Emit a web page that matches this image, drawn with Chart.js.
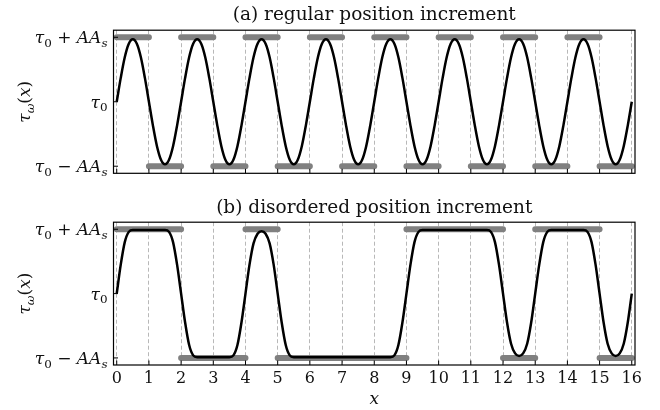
<!DOCTYPE html>
<html lang="en">
<head>
<meta charset="UTF-8">
<title>Position increment</title>
<style>
  body { margin: 0; background: #fff; }
  #wrap { position: relative; width: 660px; height: 410px; }
  .panel { position: absolute; left: 0; width: 660px; }
  #top { top: 0; height: 195px; }
  #bottom { top: 195px; height: 215px; }
</style>
<script src="https://cdn.jsdelivr.net/npm/chart.js"></script>
</head>
<body>
<div id="wrap">
  <div class="panel" id="top"><canvas id="chartA"></canvas></div>
  <div class="panel" id="bottom"><canvas id="chartB"></canvas></div>
</div>
<script>
  // x ticks and y ticks
  const xTicks = [0, 1, 2, 3, 4, 5, 6, 7, 8, 9, 10, 11, 12, 13, 14, 15, 16];
  const yTickValues = [-1, 0, 1];
  const yTickLabels = ['τ_0 − AA_s', 'τ_0', 'τ_0 + AA_s'];
  const yTitle = 'τ_ω(x)';
  const xTitle = 'x';
  const titleA = '(a) regular position increment';
  const titleB = '(b) disordered position increment';

  // curve samples, one row per unit of x (8 samples per unit)
  const sampleStep = 0.125;
  const curveA = [
    0, 0.37, 0.69, 0.90, 0.97, 0.90, 0.69, 0.37,
    0, -0.37, -0.69, -0.90, -0.97, -0.90, -0.69, -0.37,
    0, 0.37, 0.69, 0.90, 0.97, 0.90, 0.69, 0.37,
    0, -0.37, -0.69, -0.90, -0.97, -0.90, -0.69, -0.37,
    0, 0.37, 0.69, 0.90, 0.97, 0.90, 0.69, 0.37,
    0, -0.37, -0.69, -0.90, -0.97, -0.90, -0.69, -0.37,
    0, 0.37, 0.69, 0.90, 0.97, 0.90, 0.69, 0.37,
    0, -0.37, -0.69, -0.90, -0.97, -0.90, -0.69, -0.37,
    0, 0.37, 0.69, 0.90, 0.97, 0.90, 0.69, 0.37,
    0, -0.37, -0.69, -0.90, -0.97, -0.90, -0.69, -0.37,
    0, 0.37, 0.69, 0.90, 0.97, 0.90, 0.69, 0.37,
    0, -0.37, -0.69, -0.90, -0.97, -0.90, -0.69, -0.37,
    0, 0.37, 0.69, 0.90, 0.97, 0.90, 0.69, 0.37,
    0, -0.37, -0.69, -0.90, -0.97, -0.90, -0.69, -0.37,
    0, 0.37, 0.69, 0.90, 0.97, 0.90, 0.69, 0.37,
    0, -0.37, -0.69, -0.90, -0.97, -0.90, -0.69, -0.37,
    0
  ];
  const curveB = [
    0, 0.45, 0.80, 0.96, 0.99, 0.99, 0.99, 0.99,
    0.99, 0.99, 0.99, 0.99, 0.99, 0.96, 0.80, 0.45,
    0, -0.45, -0.80, -0.96, -0.99, -0.99, -0.99, -0.99,
    -0.99, -0.99, -0.99, -0.99, -0.99, -0.96, -0.80, -0.45,
    0, 0.45, 0.78, 0.93, 0.97, 0.93, 0.78, 0.45,
    0, -0.45, -0.80, -0.96, -0.99, -0.99, -0.99, -0.99,
    -0.99, -0.99, -0.99, -0.99, -0.99, -0.99, -0.99, -0.99,
    -0.99, -0.99, -0.99, -0.99, -0.99, -0.99, -0.99, -0.99,
    -0.99, -0.99, -0.99, -0.99, -0.99, -0.96, -0.80, -0.45,
    0, 0.45, 0.80, 0.96, 0.99, 0.99, 0.99, 0.99,
    0.99, 0.99, 0.99, 0.99, 0.99, 0.99, 0.99, 0.99,
    0.99, 0.99, 0.99, 0.99, 0.99, 0.96, 0.80, 0.45,
    0, -0.45, -0.78, -0.93, -0.97, -0.93, -0.78, -0.45,
    0, 0.45, 0.80, 0.96, 0.99, 0.99, 0.99, 0.99,
    0.99, 0.99, 0.99, 0.99, 0.99, 0.96, 0.80, 0.45,
    0, -0.45, -0.78, -0.93, -0.97, -0.93, -0.78, -0.45,
    0
  ];

  // gray bars: [start, end] intervals at the upper (+1) and lower (-1) level
  const highBarsA = [[0, 1], [2, 3], [4, 5], [6, 7], [8, 9], [10, 11], [12, 13], [14, 15]];
  const lowBarsA = [[1, 2], [3, 4], [5, 6], [7, 8], [9, 10], [11, 12], [13, 14], [15, 16]];
  const highBarsB = [[0, 2], [4, 5], [9, 12], [13, 15]];
  const lowBarsB = [[2, 4], [5, 9], [12, 13], [15, 16]];

  const serif = "'DejaVu Serif', serif";

  // split 'τ_0 + AA_s' into pieces: letters italic, '_' makes next char a subscript
  function mathParts(str) {
    const parts = [];
    for (let k = 0; k < str.length; k++) {
      let ch = str[k], sub = false;
      if (ch === '_') { sub = true; ch = str[++k]; }
      parts.push({ t: ch, i: /[A-Za-zα-ω]/.test(ch), s: sub });
    }
    return parts;
  }

  function drawRich(ctx, parts, x, y, align, size) {
    let w = 0;
    const fonts = parts.map(p => {
      const f = (p.i ? 'italic ' : '') + (p.s ? size * 0.7 : size) + 'px ' + serif;
      ctx.font = f;
      const pw = ctx.measureText(p.t).width;
      w += pw;
      return { f, pw };
    });
    let cx = align === 'right' ? x - w : align === 'center' ? x - w / 2 : x;
    ctx.textAlign = 'left';
    ctx.textBaseline = 'alphabetic';
    parts.forEach((p, k) => {
      ctx.font = fonts[k].f;
      ctx.fillText(p.t, cx, y + (p.s ? size * 0.22 : 0));
      cx += fonts[k].pw;
    });
  }

  // frame, inward ticks, y tick labels and y title
  const framePlugin = {
    id: 'frame',
    afterDraw(chart) {
      const { ctx, chartArea: a, scales: { x, y } } = chart;
      ctx.save();
      ctx.strokeStyle = '#000';
      ctx.lineWidth = 1.2;
      ctx.strokeRect(a.left, a.top, a.right - a.left, a.bottom - a.top);
      ctx.lineWidth = 1;
      ctx.beginPath();
      x.ticks.forEach(t => {
        const px = x.getPixelForValue(t.value);
        ctx.moveTo(px, a.bottom);
        ctx.lineTo(px, a.bottom - 4.5);
      });
      y.ticks.forEach(t => {
        const py = y.getPixelForValue(t.value);
        ctx.moveTo(a.left, py);
        ctx.lineTo(a.left + 4.5, py);
      });
      ctx.stroke();
      ctx.fillStyle = '#111';
      y.ticks.forEach((t, k) => {
        drawRich(ctx, mathParts(yTickLabels[k]), a.left - 6, y.getPixelForValue(t.value) + 6, 'right', 17);
      });
      ctx.translate(24, (a.top + a.bottom) / 2);
      ctx.rotate(-Math.PI / 2);
      drawRich(ctx, mathParts(yTitle), 0, 6, 'center', 17);
      ctx.restore();
    }
  };

  function barPoints(bars, level) {
    return bars.flatMap(([s, e]) => [{ x: s, y: level }, { x: e, y: level }, { x: e, y: null }]);
  }

  function makeChart(id, title, curve, highBars, lowBars, showX, xHeight, titlePad) {
    const bar = data => ({
      data, borderColor: '#808080', borderWidth: 6, borderCapStyle: 'round',
      pointRadius: 0, spanGaps: false, order: 1
    });
    return new Chart(document.getElementById(id), {
      type: 'line',
      data: {
        datasets: [
          {
            data: curve.map((v, i) => ({ x: i * sampleStep, y: v })),
            borderColor: '#000', borderWidth: 2.5, pointRadius: 0,
            cubicInterpolationMode: 'monotone', order: 0
          },
          bar(barPoints(highBars, 1)),
          bar(barPoints(lowBars, -1))
        ]
      },
      options: {
        responsive: true,
        maintainAspectRatio: false,
        animation: false,
        layout: { padding: { right: 25 } },
        plugins: {
          legend: { display: false },
          tooltip: { enabled: false },
          title: {
            display: true, text: title, color: '#111', fullSize: false,
            font: { family: serif, size: 18.5, weight: 'normal' },
            padding: titlePad
          }
        },
        scales: {
          x: {
            type: 'linear', min: -0.1, max: 16.1,
            afterBuildTicks: s => { s.ticks = xTicks.map(v => ({ value: v })); },
            afterFit: s => { s.height = xHeight; },
            grid: { color: '#b8b8b8', lineWidth: 1, drawTicks: false },
            border: { display: false, dash: [4, 2.5] },
            ticks: {
              display: showX, color: '#111', padding: 4, maxRotation: 0, autoSkip: false,
              font: { family: serif, size: 16 }
            },
            title: {
              display: showX, text: xTitle, color: '#111',
              font: { family: serif, size: 17, style: 'italic' },
              padding: { top: 0, bottom: 0 }
            }
          },
          y: {
            min: -1.11, max: 1.11,
            afterBuildTicks: s => { s.ticks = yTickValues.map(v => ({ value: v })); },
            afterFit: s => { s.width = 113.5; },
            grid: { display: false },
            border: { display: false },
            ticks: { display: false }
          }
        }
      },
      plugins: [framePlugin]
    });
  }

  makeChart('chartA', titleA, curveA, highBarsA, lowBarsA, false, 21.7, { top: 4, bottom: 4 });
  makeChart('chartB', titleB, curveB, highBarsB, lowBarsB, true, 45, { top: 2, bottom: 3 });
</script>
</body>
</html>
